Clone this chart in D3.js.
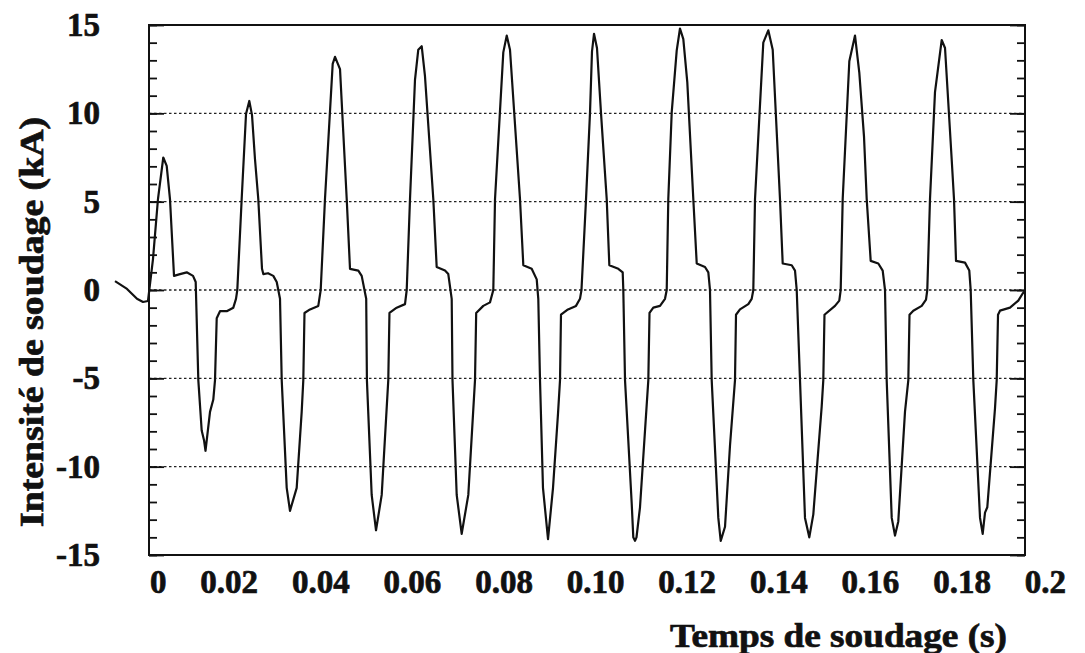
<!DOCTYPE html>
<head>
  <meta charset="utf-8">
  <title>Intensité de soudage</title>
  <style>
    body { margin: 0; background: #fff; }
    text { font-family: "Liberation Serif", "Times New Roman", serif; font-weight: bold; fill: #111; stroke: #111; stroke-width: 0.7px; }
  </style>
</head>
<body>
<script src="https://d3js.org/d3.v7.min.js"></script>
<script>

    // welding current trace, [time (ms), current (kA)], one array per period
    var cycle1 = [[-7.76,0.5],[-5.02,0.06],[-2.74,-0.5],[-1.37,-0.68],[-0.23,-0.62],[0.91,1.75],[2.05,5.15],[3.26,7.5],[4.04,7.03],[4.79,5.15],[5.71,0.8],[7.08,0.9],[8.61,1.0],[10.05,0.8],[10.66,0.45],[11.26,-5.1],[12.03,-7.95],[12.56,-8.5],[12.9,-9.1],[13.93,-6.9],[14.68,-6.2],[15.07,-5.1],[15.46,-1.6],[16.21,-1.2],[17.74,-1.2],[19.25,-1.0],[19.86,-0.5],[20.16,0]];
    var cycle2 = [[21.16,5.15],[22.15,9.96],[22.9,10.7],[23.52,9.9],[24.2,7.4],[24.95,5.15],[25.8,1.2],[26.1,0.9],[27.17,0.95],[28.38,0.8],[29.16,0.45],[29.91,-0.5],[30.3,-5.1],[31.44,-11.2],[32.19,-12.5],[33.72,-11.2],[34.86,-6.9],[35.23,-5.1],[35.5,-1.3],[36.76,-1.1],[38.65,-0.9],[39.2,0]];
    var cycle3 = [[40.18,5.15],[41.94,12.8],[42.47,13.2],[43.61,12.5],[45.14,5.15],[45.89,1.2],[47.79,1.1],[48.56,0.8],[49.59,-0.5],[49.75,-5.1],[50.84,-11.6],[51.83,-13.6],[53.13,-11.6],[54.63,-5.1],[54.9,-1.3],[56.55,-1.0],[58.45,-0.8],[58.84,0]];
    var cycle4 = [[59.59,5.15],[60.73,11.9],[61.48,13.6],[62.26,13.8],[63.01,12.1],[64.91,5.15],[65.68,1.3],[67.58,1.1],[68.33,0.9],[69.11,-0.5],[69.29,-5.1],[70.25,-11.6],[71.39,-13.8],[72.9,-11.6],[74.43,-5.1],[74.7,-1.3],[76.32,-0.9],[77.85,-0.7],[78.61,0]];
    var cycle5 = [[79.0,5.15],[80.89,13.45],[81.67,14.4],[82.42,13.6],[84.7,5.15],[85.46,1.4],[87.37,1.2],[88.52,0.6],[88.88,-0.5],[89.27,-5.1],[89.95,-11.2],[91.1,-14.1],[92.24,-11.2],[93.38,-7.0],[93.84,-5.1],[94.06,-1.4],[95.66,-1.1],[97.49,-0.9],[98.4,-0.5],[98.74,0]];
    var cycle6 = [[99.77,5.1],[100.68,10.0],[101.14,13.5],[101.6,14.5],[102.28,13.7],[103.2,10.0],[104.5,5.15],[105.1,1.4],[107.15,1.2],[108.15,1.0],[108.29,0],[108.68,-5.1],[110.21,-12.1],[110.57,-14.0],[110.96,-14.2],[111.3,-14.0],[112.1,-12.3],[114.0,-5.1],[114.27,-1.3],[115.14,-1.0],[116.67,-0.9],[117.81,-0.5],[118.2,0]];
    var cycle7 = [[118.56,5.15],[119.34,10.05],[120.48,13.55],[121.23,14.8],[121.99,14.2],[122.9,11.75],[124.27,5.15],[125.05,1.5],[126.94,1.3],[127.7,1.0],[128.08,0],[128.47,-5.1],[129.98,-12.9],[130.53,-14.2],[131.51,-13.4],[132.65,-8.8],[133.79,-5.1],[134.02,-1.4],[134.93,-1.1],[136.83,-0.8],[137.6,-0.5],[137.97,0]];
    var cycle8 = [[138.36,5.15],[140.25,14.0],[141.39,14.7],[142.4,13.6],[144.06,5.15],[144.68,1.5],[146.74,1.4],[147.49,1.1],[147.88,0],[148.63,-5.1],[149.77,-12.9],[150.75,-14.0],[151.67,-12.7],[153.58,-6.6],[153.95,-5.1],[154.22,-1.4],[156.62,-0.9],[157.6,-0.6],[157.92,0]];
    var cycle9 = [[158.38,5.15],[159.89,12.95],[161.19,14.4],[162.17,12.3],[163.24,8.7],[163.86,5.15],[164.77,1.65],[166.51,1.5],[167.51,1.1],[168.04,0],[168.42,-5.1],[169.57,-12.9],[170.32,-13.9],[171.07,-13.1],[172.6,-6.9],[173.36,-5.1],[173.63,-1.4],[174.5,-1.17],[176.42,-0.9],[177.4,-0.55],[177.69,0]];
    var cycle10 = [[178.31,5.15],[179.45,11.2],[180.98,14.15],[181.74,13.7],[183.26,7.4],[183.79,5.15],[184.25,1.65],[186.3,1.55],[187.28,1.1],[187.6,0],[188.2,-5.1],[189.73,-12.9],[190.34,-13.8],[190.87,-12.6],[191.39,-12.3],[193.15,-6.7],[193.54,-5.1],[193.84,-1.4],[194.29,-1.17],[196.58,-1.0],[198.47,-0.6],[199.47,-0.2],[200,-0.05]];

    var xTickLabels = ["0", "0.02", "0.04", "0.06", "0.08", "0.10", "0.12", "0.14", "0.16", "0.18", "0.2"];
    var yTicks = [-15, -10, -5, 0, 5, 10, 15];
    var gridValues = [-10, -5, 0, 5, 10];
    var xDomain = [0, 200];   // ms
    var yDomain = [-15, 15];  // kA

    var trace = [].concat(cycle1, cycle2, cycle3, cycle4, cycle5, cycle6, cycle7, cycle8, cycle9, cycle10);

    var margin = { top: 25, right: 60, bottom: 98, left: 149 },
        width = 1085 - margin.left - margin.right,
        height = 653 - margin.top - margin.bottom;

    var x = d3.scaleLinear().domain(xDomain).range([0, width]);
    var y = d3.scaleLinear().domain(yDomain).range([height, 0]);

    var svg = d3.select("body").append("svg")
        .attr("width", width + margin.left + margin.right)
        .attr("height", height + margin.top + margin.bottom)
      .append("g")
        .attr("transform", "translate(" + margin.left + "," + margin.top + ")");

    // dotted grid
    svg.selectAll(".grid")
        .data(gridValues)
      .enter().append("line")
        .attr("class", "grid")
        .attr("x1", 0)
        .attr("x2", width)
        .attr("y1", function(d) { return y(d); })
        .attr("y2", function(d) { return y(d); })
        .style("stroke", "#222")
        .style("stroke-width", 1.4)
        .style("stroke-dasharray", "2.5,2.5");

    // inward ticks, left and right
    function ticks(axis, values, size, tx) {
      var g = svg.append("g")
          .attr("transform", "translate(" + tx + ",0)")
          .call(axis(y).tickValues(values).tickSize(size).tickFormat(""));
      g.select(".domain").remove();
      g.selectAll("line").style("stroke", "#111").style("stroke-width", 1.8);
    }
    ticks(d3.axisRight, d3.range(-15, 16), 8, 0);
    ticks(d3.axisRight, yTicks, 15, 0);
    ticks(d3.axisLeft, d3.range(-15, 16), 8, width);
    ticks(d3.axisLeft, yTicks, 15, width);

    // frame
    svg.append("rect")
        .attr("width", width)
        .attr("height", height)
        .style("fill", "none")
        .style("stroke", "#111")
        .style("stroke-width", 2);

    // y labels (plain hyphen, as in the original)
    var yLab = svg.append("g")
        .call(d3.axisLeft(y).tickValues(yTicks).tickSize(0).tickPadding(49)
          .tickFormat(function(d) { return String(d); }));
    yLab.select(".domain").remove();
    yLab.selectAll("text")
        .style("font-family", '"Liberation Serif", serif')
        .style("font-weight", "bold")
        .style("font-size", "33px");

    // x labels, spread evenly across the line like the original
    var xLab = svg.append("g")
        .attr("transform", "translate(0," + (height + 38) + ")");
    var labs = xLab.selectAll("text")
        .data(xTickLabels)
      .enter().append("text")
        .style("font-size", "33px")
        .text(function(d) { return d; });
    var widths = labs.nodes().map(function(n) { return n.getComputedTextLength(); }),
        span = 916,
        gap = (span - d3.sum(widths)) / (widths.length - 1),
        pos = 1;
    labs.attr("x", function(d, i) { var p = pos; pos += widths[i] + gap; return p; });

    // axis titles
    svg.append("text")
        .attr("x", 521)
        .attr("y", height + 92)
        .attr("textLength", 337)
        .attr("lengthAdjust", "spacingAndGlyphs")
        .style("font-size", "33px")
        .text("Temps de soudage (s)");

    svg.append("text")
        .attr("transform", "translate(-106," + (297) + ") rotate(-90)")
        .attr("text-anchor", "middle")
        .attr("textLength", 410)
        .attr("lengthAdjust", "spacingAndGlyphs")
        .style("font-size", "33px")
        .text("Intensité de soudage (kA)");

    // the current trace
    var line = d3.line()
        .x(function(d) { return x(d[0]); })
        .y(function(d) { return y(d[1]); });

    svg.append("path")
        .datum(trace)
        .attr("d", line)
        .style("fill", "none")
        .style("stroke", "#111")
        .style("stroke-width", 2.2)
        .style("stroke-linejoin", "round");

</script>
</body>
